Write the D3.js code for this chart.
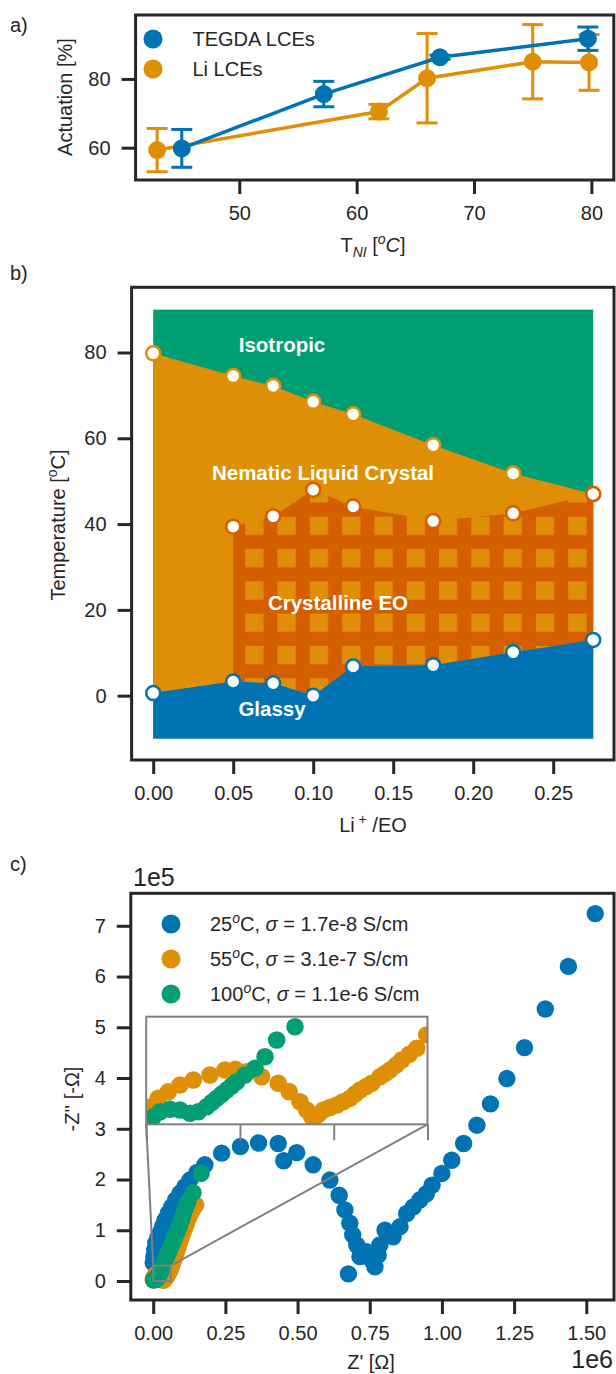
<!DOCTYPE html>
<html>
<head>
<meta charset="utf-8">
<script src="https://cdn.jsdelivr.net/npm/d3@7"></script>
<style>
body { margin: 0; background: #fff; }
text { font-family: "Liberation Sans", Arial, sans-serif; fill: #262626; }
.tick line { stroke: #262626; stroke-width: 3; }
.tick text { font-size: 20px; }
</style>
</head>
<body>
<svg id="fig" width="616" height="1374"></svg>
<script>
// ---------- a) actuation vs T_NI ----------
var tniTegda = [45.1, 57.2, 67.1, 79.7];
var actTegda = [59.8, 75.6, 86.3, 91.7];
var errTegda = [5.5, 3.7, 0.6, 3.4];
var tniLi = [43.0, 61.9, 66.0, 75.0, 79.8];
var actLi = [59.3, 70.5, 80.2, 85.0, 84.8];
var errLi = [6.3, 2.1, 13.0, 10.8, 8.1];
var aTicksX = [50, 60, 70, 80];
var aTicksY = [60, 80];

// ---------- b) phase diagram ----------
var liEO = [0, 0.05, 0.075, 0.1, 0.125, 0.175, 0.225, 0.275];
var tIso = [79.8, 74.5, 72.2, 68.5, 65.6, 58.4, 51.8, 47.0];
var tGlass = [0.6, 3.3, 2.9, 0.0, 6.8, 7.1, 10.1, 13.0];
var liEOCryst = [0.05, 0.075, 0.1, 0.125, 0.175, 0.225, 0.275];
var tCryst = [39.4, 41.8, 48.0, 44.1, 40.7, 42.5, 47.0];
var bTicksX = [0, 0.05, 0.1, 0.15, 0.2, 0.25];
var bTicksY = [0, 20, 40, 60, 80];

// ---------- c) impedance (Nyquist) ----------
var re25 = [0, 2000, 5000, 9000, 16000, 23500, 32000, 41000, 52000, 64000, 78000, 93000, 110000, 127000, 152000, 179000, 237000, 302000, 365000, 433000, 452000, 497000, 554000, 612000, 644000, 664000, 681000, 691000, 705000, 716000, 676000, 739000, 757000, 768000, 779000, 785000, 803000, 831000, 855000, 878000, 901000, 924000, 946000, 966000, 1000000, 1034000, 1075000, 1121000, 1168000, 1225000, 1286000, 1358000, 1438000, 1531000];
var im25 = [36000, 48000, 62000, 75000, 86000, 94000, 107000, 120000, 133000, 146000, 160000, 173000, 186000, 199000, 214000, 229000, 252000, 265000, 272000, 271000, 237000, 253000, 229000, 199000, 169000, 140000, 114000, 91000, 71000, 48000, 14000, 58000, 41000, 28000, 51000, 71000, 100000, 87000, 107000, 133000, 146000, 160000, 172000, 189000, 212000, 238000, 271000, 307000, 349000, 399000, 460000, 536000, 620000, 724000];
var re55 = [0, 1173, 2581, 4714, 7210, 10047, 13609, 16809, 19000, 21437, 24636, 28177, 30500, 32806, 34235, 35302, 35643, 36700, 37776, 39200, 40634, 42000, 43471, 44500, 45604, 46900, 48100, 49870, 51000, 52003, 53300, 54499, 56100, 57698, 59831, 62000, 67000, 72000, 77000, 82000, 87000, 92000, 97000, 103000, 109000, 115000, 121000, 127000, 134000, 141000, 147000];
var im55 = [2000, 4907, 7249, 9089, 10957, 12351, 13745, 15139, 15300, 14665, 13271, 11431, 9100, 6301, 3987, 2119, 1500, 2700, 3987, 4700, 5381, 6300, 7249, 8400, 9563, 10500, 11431, 13271, 14200, 15139, 16500, 17927, 19500, 21189, 24897, 28000, 35000, 43000, 51000, 60000, 68000, 77000, 86000, 95000, 104000, 113000, 122000, 130000, 138000, 145000, 150000];
var re100 = [1514, 2944, 5077, 7210, 9343, 11113, 12905, 14000, 15038, 16100, 17171, 18200, 19304, 21074, 23207, 25340, 27836, 31739, 36000, 41000, 46000, 51000, 56000, 61000, 66000, 71000, 76000, 81000, 86000, 92000, 98000, 104000, 111000, 120000, 138000, 166000];
var im100 = [2119, 3513, 4182, 3987, 3067, 3513, 4907, 6100, 7249, 8400, 9563, 10700, 11877, 13745, 15613, 18847, 23503, 27211, 34000, 41000, 48000, 54000, 60000, 67000, 74000, 81000, 88000, 95000, 102000, 110000, 120000, 131000, 143000, 156000, 174000, 212000];
var cTicksX = [0, 250000, 500000, 750000, 1000000, 1250000, 1500000];
var cTicksY = [0, 100000, 200000, 300000, 400000, 500000, 600000, 700000];
var insetTicksX = [0, 20000, 40000, 60000];
var insetZoomX = [0, 60000];
var insetZoomY = [0, 30000];
var cSeries = [
  {label: "25", sig: "1.7e-8", re: re25, im: im25, color: "#0173b2"},
  {label: "55", sig: "3.1e-7", re: re55, im: im55, color: "#de8f05"},
  {label: "100", sig: "1.1e-6", re: re100, im: im100, color: "#029e73"}
];

var BLUE = "#0173b2", ORANGE = "#de8f05", GREEN = "#029e73", RED = "#d55e00", INK = "#262626";

var svg = d3.select("#fig");

// axes helper: outward ticks + full box frame
function axes(g, x, y, xt, yt, fx, fy) {
  var xr = x.range(), yr = y.range();
  g.append("g").attr("transform", "translate(0," + yr[0] + ")")
    .call(d3.axisBottom(x).tickValues(xt).tickFormat(fx).tickSize(14).tickPadding(12).tickSizeOuter(0))
    .call(function(s) { s.select(".domain").remove(); });
  g.append("g").attr("transform", "translate(" + xr[0] + ",0)")
    .call(d3.axisLeft(y).tickValues(yt).tickFormat(fy).tickSize(14).tickPadding(11).tickSizeOuter(0))
    .call(function(s) { s.select(".domain").remove(); });
  g.append("rect")
    .attr("x", xr[0]).attr("y", yr[1])
    .attr("width", xr[1] - xr[0]).attr("height", yr[0] - yr[1])
    .attr("fill", "none").attr("stroke", INK).attr("stroke-width", 3);
}

function vlabel(g, cx, cy, build) {
  var t = g.append("text").attr("transform", "translate(" + cx + "," + cy + ") rotate(-90)")
    .attr("text-anchor", "middle").attr("dy", "0.35em").attr("font-size", 20);
  build(t);
}

// ================= panel a =================
var ga = svg.append("g");
var xa = d3.scaleLinear().domain([41.165, 81.91]).range([135.6, 613.8]);
var ya = d3.scaleLinear().domain([50.6, 98.6]).range([180, 15]);

function errSeries(xs, ys, es, color) {
  var g = ga.append("g");
  xs.forEach(function(v, i) {
    g.append("line").attr("x1", xa(v)).attr("x2", xa(v))
      .attr("y1", ya(ys[i] - es[i])).attr("y2", ya(ys[i] + es[i]))
      .attr("stroke", color).attr("stroke-width", 3);
    [ys[i] - es[i], ys[i] + es[i]].forEach(function(c) {
      g.append("line").attr("x1", xa(v) - 10.5).attr("x2", xa(v) + 10.5)
        .attr("y1", ya(c)).attr("y2", ya(c)).attr("stroke", color).attr("stroke-width", 3);
    });
  });
  var pts = xs.map(function(v, i) { return [xa(v), ya(ys[i])]; });
  g.append("path").attr("d", d3.line()(pts)).attr("fill", "none")
    .attr("stroke", color).attr("stroke-width", 3.5);
  g.selectAll("circle").data(pts).enter().append("circle")
    .attr("cx", function(d) { return d[0]; }).attr("cy", function(d) { return d[1]; })
    .attr("r", 9).attr("fill", color);
}
errSeries(tniLi, actLi, errLi, ORANGE);
errSeries(tniTegda, actTegda, errTegda, BLUE);
axes(ga, xa, ya, aTicksX, aTicksY, d3.format("d"), d3.format("d"));

[["TEGDA LCEs", BLUE, 39], ["Li LCEs", ORANGE, 69]].forEach(function(l) {
  ga.append("circle").attr("cx", 153).attr("cy", l[2]).attr("r", 9.5).attr("fill", l[1]);
  ga.append("text").attr("x", 192.5).attr("y", l[2] + 7).attr("font-size", 20).text(l[0]);
});

var tx = ga.append("text").attr("x", 373).attr("y", 252).attr("text-anchor", "middle").attr("font-size", 20);
tx.append("tspan").text("T");
tx.append("tspan").attr("dy", 5).attr("font-size", 14).attr("font-style", "italic").text("NI");
tx.append("tspan").attr("dy", -5).text(" [");
tx.append("tspan").attr("dy", -8).attr("font-size", 14).attr("font-style", "italic").text("o");
tx.append("tspan").attr("dy", 8).attr("font-style", "italic").text("C");
tx.append("tspan").text("]");
vlabel(ga, 65, 97, function(t) { t.text("Actuation [%]"); });
svg.append("text").attr("x", 10).attr("y", 32).attr("font-size", 20).text("a)");

// ================= panel b =================
var gb = svg.append("g");
var xb = d3.scaleLinear().domain([-0.0135, 0.288]).range([131.6, 614]);
var yb = d3.scaleLinear().domain([-15, 95.2]).range([760, 287.3]);

var defs = svg.append("defs");
var pat = defs.append("pattern").attr("id", "crystHatch").attr("patternUnits", "userSpaceOnUse")
  .attr("x", 245.2).attr("y", 516.7).attr("width", 32.3).attr("height", 32.3);
pat.append("rect").attr("width", 32.3).attr("height", 32.3).attr("fill", RED);
pat.append("rect").attr("width", 18.3).attr("height", 18.3).attr("fill", ORANGE);

var xMax = liEO[liEO.length - 1];
gb.append("rect").attr("x", xb(0)).attr("y", yb(90))
  .attr("width", xb(xMax) - xb(0)).attr("height", yb(-10) - yb(90)).attr("fill", GREEN);
var rows = liEO.map(function(v, i) { return {x: v, lo: tGlass[i], hi: tIso[i]}; });
gb.append("path").datum(rows).attr("fill", ORANGE)
  .attr("d", d3.area().x(function(d) { return xb(d.x); })
    .y0(function(d) { return yb(d.lo); }).y1(function(d) { return yb(d.hi); }));
var crows = liEOCryst.map(function(v, i) { return {x: v, lo: tGlass[liEO.indexOf(v)], hi: tCryst[i]}; });
gb.append("path").datum(crows).attr("fill", "url(#crystHatch)")
  .attr("d", d3.area().x(function(d) { return xb(d.x); })
    .y0(function(d) { return yb(d.lo); }).y1(function(d) { return yb(d.hi); }));
gb.append("path").datum(rows).attr("fill", BLUE)
  .attr("d", d3.area().x(function(d) { return xb(d.x); })
    .y0(yb(-10)).y1(function(d) { return yb(d.lo); }));

function ringPts(xs, ys, color) {
  gb.append("g").selectAll("circle").data(xs).enter().append("circle")
    .attr("cx", function(d) { return xb(d); })
    .attr("cy", function(d, i) { return yb(ys[i]); })
    .attr("r", 7).attr("fill", "#fff").attr("stroke", color).attr("stroke-width", 2.5);
}
ringPts(liEO, tIso, ORANGE);
ringPts(liEOCryst, tCryst, RED);
ringPts(liEO, tGlass, BLUE);

[["Isotropic", 282, 352], ["Nematic Liquid Crystal", 323, 480], ["Crystalline EO", 338, 610], ["Glassy", 272, 716]]
  .forEach(function(l) {
    gb.append("text").attr("x", l[1]).attr("y", l[2]).attr("text-anchor", "middle")
      .attr("font-size", 20.5).attr("font-weight", "bold").style("fill", "#fff").text(l[0]);
  });

axes(gb, xb, yb, bTicksX, bTicksY, d3.format(".2f"), d3.format("d"));
var lx = gb.append("text").attr("x", 373).attr("y", 832).attr("text-anchor", "middle").attr("font-size", 20);
lx.append("tspan").text("Li");
lx.append("tspan").attr("dy", -8).attr("font-size", 14).text(" +");
lx.append("tspan").attr("dy", 8).text(" /EO");
vlabel(gb, 58, 525, function(t) {
  t.append("tspan").text("Temperature [");
  t.append("tspan").attr("dy", -8).attr("font-size", 14).text("o");
  t.append("tspan").attr("dy", 8).text("C]");
});
svg.append("text").attr("x", 10).attr("y", 280).attr("font-size", 20).text("b)");

// ================= panel c =================
var gc = svg.append("g");
var xc = d3.scaleLinear().domain([-77600, 1596000]).range([130.8, 614]);
var yc = d3.scaleLinear().domain([-37400, 764000]).range([1300, 893.3]);

defs.append("clipPath").attr("id", "clipC").append("rect")
  .attr("x", 130.8).attr("y", 893.3).attr("width", 614 - 130.8).attr("height", 1300 - 893.3);
var plotC = gc.append("g").attr("clip-path", "url(#clipC)");
cSeries.forEach(function(s) {
  plotC.append("g").selectAll("circle").data(s.re).enter().append("circle")
    .attr("cx", function(d) { return xc(d); })
    .attr("cy", function(d, i) { return yc(s.im[i]); })
    .attr("r", 8.7).attr("fill", s.color);
});

// zoom box + connectors
var xi = d3.scaleLinear().domain(insetZoomX).range([146.2, 427.5]);
var yi = d3.scaleLinear().domain(insetZoomY).range([1124.3, 1016.7]);
var GRAY = "#808080";
gc.append("rect").attr("x", xc(insetZoomX[0])).attr("y", yc(insetZoomY[1]))
  .attr("width", xc(insetZoomX[1]) - xc(insetZoomX[0])).attr("height", yc(insetZoomY[0]) - yc(insetZoomY[1]))
  .attr("fill", "none").attr("stroke", GRAY).attr("stroke-width", 2);
gc.append("line").attr("x1", xi.range()[0]).attr("y1", yi.range()[0])
  .attr("x2", xc(insetZoomX[0])).attr("y2", yc(insetZoomY[1])).attr("stroke", GRAY).attr("stroke-width", 2);
gc.append("line").attr("x1", xi.range()[1]).attr("y1", yi.range()[0])
  .attr("x2", xc(insetZoomX[1])).attr("y2", yc(insetZoomY[1])).attr("stroke", GRAY).attr("stroke-width", 2);

// inset
var gi = gc.append("g");
gi.append("rect").attr("x", xi.range()[0]).attr("y", yi.range()[1])
  .attr("width", xi.range()[1] - xi.range()[0]).attr("height", yi.range()[0] - yi.range()[1]).attr("fill", "#fff");
defs.append("clipPath").attr("id", "clipI").append("rect")
  .attr("x", xi.range()[0]).attr("y", yi.range()[1])
  .attr("width", xi.range()[1] - xi.range()[0]).attr("height", yi.range()[0] - yi.range()[1]);
var plotI = gi.append("g").attr("clip-path", "url(#clipI)");
cSeries.forEach(function(s) {
  plotI.append("g").selectAll("circle").data(s.re).enter().append("circle")
    .attr("cx", function(d) { return xi(d); })
    .attr("cy", function(d, i) { return yi(s.im[i]); })
    .attr("r", 8.8).attr("fill", s.color);
});
gi.append("g").attr("transform", "translate(0," + yi.range()[0] + ")")
  .call(d3.axisBottom(xi).tickValues(insetTicksX).tickFormat("").tickSize(16).tickSizeOuter(0))
  .call(function(s) {
    s.select(".domain").remove();
    s.selectAll(".tick line").style("stroke", GRAY).style("stroke-width", 2);
  });
gi.append("rect").attr("x", xi.range()[0]).attr("y", yi.range()[1])
  .attr("width", xi.range()[1] - xi.range()[0]).attr("height", yi.range()[0] - yi.range()[1])
  .attr("fill", "none").attr("stroke", GRAY).attr("stroke-width", 2);

axes(gc, xc, yc, cTicksX, cTicksY,
  function(d) { return d3.format(".2f")(d / 1e6); },
  function(d) { return d3.format("d")(d / 1e5); });

// legend
cSeries.forEach(function(s, i) {
  var cy = 924 + i * 35;
  gc.append("circle").attr("cx", 171).attr("cy", cy).attr("r", 9.5).attr("fill", s.color);
  var t = gc.append("text").attr("x", 210).attr("y", cy + 7).attr("font-size", 20);
  t.append("tspan").text(s.label);
  t.append("tspan").attr("dy", -8).attr("font-size", 14).attr("font-style", "italic").text("o");
  t.append("tspan").attr("dy", 8).text("C, ");
  t.append("tspan").attr("font-style", "italic").text("σ");
  t.append("tspan").text(" = " + s.sig + " S/cm");
});

gc.append("text").attr("x", 133).attr("y", 886).attr("font-size", 25).text("1e5");
gc.append("text").attr("x", 613).attr("y", 1368).attr("text-anchor", "end").attr("font-size", 25).text("1e6");
gc.append("text").attr("x", 371).attr("y", 1369).attr("text-anchor", "middle").attr("font-size", 20).text("Z' [Ω]");
vlabel(gc, 72, 1099, function(t) { t.text("-Z'' [-Ω]"); });
svg.append("text").attr("x", 10).attr("y", 871).attr("font-size", 20).text("c)");
</script>
</body>
</html>
